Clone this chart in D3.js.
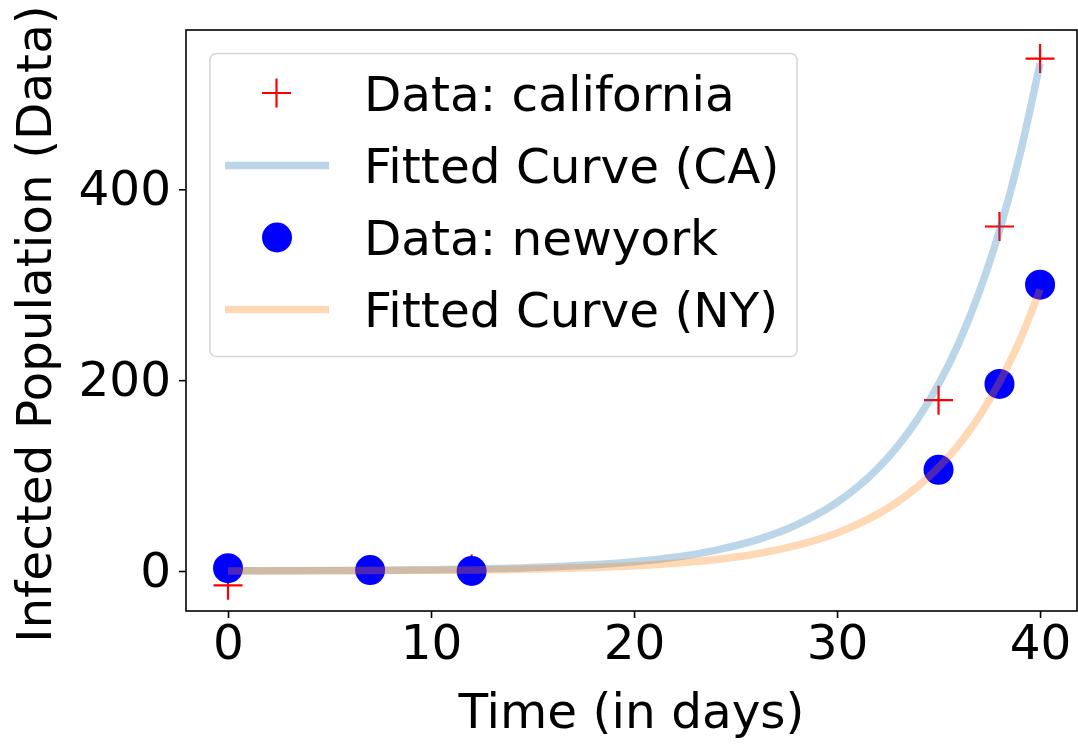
<!DOCTYPE html>
<html>
<head>
<meta charset="utf-8">
<script src="https://cdn.jsdelivr.net/npm/d3@7"></script>
<style>
  body { margin: 0; background: #fff; }
  svg text { font-family: "DejaVu Sans", sans-serif; fill: #000; }
</style>
</head>
<body>
<svg id="chart" width="1078" height="745"></svg>
<script>
// observed data points (days)
var dataDays = [0, 7, 12, 35, 38, 40];
var caData = [-15, 1, 2, 179, 361, 537];
var nyData = [3, 1, 0, 106, 196, 300];

// fitted curves
var fitDays = [0, 5, 10, 15, 20, 22, 24, 26, 28, 30, 31, 32, 33, 34, 35, 36, 37, 38, 39, 40];
var caFit = [0.2, 0.5, 1.3, 3.6, 9.7, 14.5, 21.7, 32.3, 48.3, 72, 87.9, 107.4, 131.2, 160.2, 195.7, 239, 292, 356.6, 435.6, 532];
var nyFit = [0.1, 0.3, 0.7, 2, 5.4, 8.1, 12, 17.9, 26.8, 39.9, 48.8, 59.6, 72.7, 88.9, 108.5, 132.5, 161.9, 197.7, 241.5, 295];

var xTicks = [0, 10, 20, 30, 40];
var yTicks = [0, 200, 400];

var legendLabels = ["Data: california", "Fitted Curve (CA)", "Data: newyork", "Fitted Curve (NY)"];

var box = {left: 186, right: 1077, top: 30, bottom: 611},
    fontSize = 48.5,
    tickLen = 7;

var svg = d3.select("#chart");

var x = d3.scaleLinear().domain([-2.07, 41.82]).range([box.left, box.right]);
var y = d3.scaleLinear().domain([-41.9, 566.9]).range([box.bottom, box.top]);

var blueFit = "rgba(31,119,180,0.3)",
    orangeFit = "rgba(255,127,14,0.3)";

var plot = svg.append("g");

var line = d3.line()
    .x(function(d) { return x(d[0]); })
    .y(function(d) { return y(d[1]); })
    .curve(d3.curveMonotoneX);

function plusMarks(g, xs, ys, size) {
  g.selectAll(".plus")
      .data(xs.map(function(d, i) { return [d, ys[i]]; }))
    .enter().append("path")
      .attr("class", "plus")
      .attr("d", function(d) {
        var cx = x(d[0]), cy = y(d[1]), h = size / 2;
        return "M" + (cx - h) + "," + cy + "H" + (cx + h) + "M" + cx + "," + (cy - h) + "V" + (cy + h);
      })
      .attr("stroke", "#ff0000")
      .attr("stroke-width", 2.2)
      .attr("fill", "none");
}

// draw in legend order: CA data, CA fit, NY data, NY fit
plusMarks(plot.append("g"), dataDays, caData, 29);

plot.append("path")
    .datum(fitDays.map(function(d, i) { return [d, caFit[i]]; }))
    .attr("d", line)
    .attr("fill", "none")
    .attr("stroke", blueFit)
    .attr("stroke-width", 7.5);

plot.append("g").selectAll("circle")
    .data(dataDays.map(function(d, i) { return [d, nyData[i]]; }))
  .enter().append("circle")
    .attr("cx", function(d) { return x(d[0]); })
    .attr("cy", function(d) { return y(d[1]); })
    .attr("r", 15)
    .attr("fill", "#0000ff");

plot.append("path")
    .datum(fitDays.map(function(d, i) { return [d, nyFit[i]]; }))
    .attr("d", line)
    .attr("fill", "none")
    .attr("stroke", orangeFit)
    .attr("stroke-width", 7.5);

// spines
svg.append("rect")
    .attr("x", box.left)
    .attr("y", box.top)
    .attr("width", box.right - box.left)
    .attr("height", box.bottom - box.top)
    .attr("fill", "none")
    .attr("stroke", "#000")
    .attr("stroke-width", 1.6);

// x axis
var xAxis = svg.append("g")
    .attr("transform", "translate(0," + box.bottom + ")")
    .call(d3.axisBottom(x).tickValues(xTicks).tickSize(tickLen).tickPadding(7));
xAxis.select(".domain").remove();
xAxis.selectAll("line").attr("stroke", "#000").attr("stroke-width", 1.6);
xAxis.selectAll("text").attr("font-size", fontSize).attr("fill", "#000")
    .attr("font-family", "DejaVu Sans");

// y axis
var yAxis = svg.append("g")
    .attr("transform", "translate(" + box.left + ",0)")
    .call(d3.axisLeft(y).tickValues(yTicks).tickSize(tickLen).tickPadding(8));
yAxis.select(".domain").remove();
yAxis.selectAll("line").attr("stroke", "#000").attr("stroke-width", 1.6);
yAxis.selectAll("text").attr("font-size", fontSize).attr("fill", "#000")
    .attr("font-family", "DejaVu Sans");

// axis titles
svg.append("text")
    .attr("x", (box.left + box.right) / 2)
    .attr("y", 728)
    .attr("text-anchor", "middle")
    .attr("font-size", fontSize)
    .text("Time (in days)");

svg.append("text")
    .attr("transform", "translate(51,324)rotate(-90)")
    .attr("text-anchor", "middle")
    .attr("font-size", fontSize)
    .text("Infected Population (Data)");

// legend
var legend = svg.append("g");

legend.append("rect")
    .attr("x", 210)
    .attr("y", 53.5)
    .attr("width", 587)
    .attr("height", 303)
    .attr("rx", 6)
    .attr("fill", "rgba(255,255,255,0.8)")
    .attr("stroke", "#d6d6d6")
    .attr("stroke-width", 1.6);

var rowY = [93, 165.5, 237.5, 309.5];

legend.append("path")
    .attr("d", "M262,93H291M276.5,78.5V107.5")
    .attr("stroke", "#ff0000")
    .attr("stroke-width", 2.2);

legend.append("line")
    .attr("x1", 225).attr("x2", 329)
    .attr("y1", rowY[1]).attr("y2", rowY[1])
    .attr("stroke", blueFit)
    .attr("stroke-width", 7.5);

legend.append("circle")
    .attr("cx", 277).attr("cy", rowY[2]).attr("r", 15)
    .attr("fill", "#0000ff");

legend.append("line")
    .attr("x1", 225).attr("x2", 329)
    .attr("y1", rowY[3]).attr("y2", rowY[3])
    .attr("stroke", orangeFit)
    .attr("stroke-width", 7.5);

legend.selectAll(".lab")
    .data(legendLabels)
  .enter().append("text")
    .attr("class", "lab")
    .attr("x", 364)
    .attr("y", function(d, i) { return rowY[i] + 17.5; })
    .attr("font-size", fontSize)
    .text(function(d) { return d; });
</script>
</body>
</html>
